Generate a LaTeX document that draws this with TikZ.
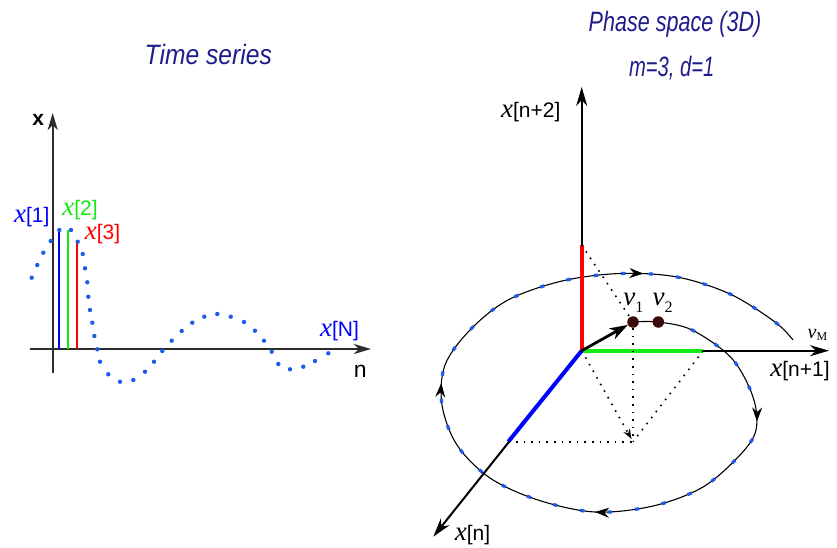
\documentclass[tikz,border=0pt]{standalone}
\usepackage{fontspec}
\usepackage{graphicx}
\setmainfont{Liberation Sans}
\newfontfamily\serifrm{Liberation Serif}
\usetikzlibrary{arrows.meta,decorations.markings}
\definecolor{navy}{RGB}{28,28,140}
\definecolor{dotblue}{RGB}{30,90,235}
\definecolor{gr}{RGB}{20,235,20}
\definecolor{axisgray}{RGB}{45,45,45}
\definecolor{vdot}{RGB}{60,10,10}
\newcommand\fsz[1]{\fontsize{#1}{#1}\selectfont}
\newcommand\ix{{\serifrm\itshape\fsz{27}x}}
\newcommand\iv{{\serifrm\itshape\fsz{27}v}}
\begin{document}
\begin{tikzpicture}[x=1pt,y=-1pt,
  lab/.style={inner sep=0pt, anchor=base, font=\fsz{21}},
  ttl/.style={inner sep=0pt, anchor=base, text=navy, font=\fsz{28}\itshape},
  axisL/.style={line width=2.4pt, draw=axisgray, -{Stealth[length=17pt,width=10pt,inset=5pt]}},
  axisR/.style={line width=2pt, draw=black, -{Stealth[length=19pt,width=11pt,inset=6pt]}},
  stem/.style={line width=2pt},
  seg/.style={line width=4pt},
  dotline/.style={line width=1.6pt, dash pattern=on 1.6pt off 6pt},
  vpt/.style={circle, fill=vdot, inner sep=0pt, minimum size=11.5pt},
  spiral/.style={line width=1.1pt,
    postaction={decorate, decoration={markings,
      mark=between positions 0.06 and 0.99 step 27.5pt with {\fill[dotblue] (-2.2pt,-1.6pt) rectangle (2.2pt,1.6pt);}}},
    postaction={decorate, decoration={markings,
      mark=at position 0.175 with {\arrow{Stealth[length=14pt,width=10pt]}},
      mark=at position 0.371 with {\arrow{Stealth[length=14pt,width=10pt]}},
      mark=at position 0.59 with {\arrow{Stealth[length=14pt,width=10pt]}},
      mark=at position 0.835 with {\arrow{Stealth[length=14pt,width=10pt]}}}}}
]
\useasboundingbox (0,0) rectangle (837,548);

% ---------------- left panel: time series ----------------
\node[ttl] (t1) at (208.3,65) {\scalebox{0.88}[1]{Time series}};

\coordinate (ya) at (52.7,373);
\coordinate (yb) at (52.7,113);
\coordinate (xa) at (30,349);
\coordinate (xb) at (371,349);
\draw[axisL] (ya) -- (yb);
\draw[axisL] (xa) -- (xb);
\node[inner sep=0pt, anchor=base, font=\fsz{21}\bfseries] (lx) at (38.3,126) {x};
\node[lab, font=\fsz{23}] (ln) at (360.3,377.5) {n};

\coordinate (s1a) at (58.7,349); \coordinate (s1b) at (58.7,230);
\coordinate (s2a) at (68.3,349); \coordinate (s2b) at (68.3,230);
\coordinate (s3a) at (76.7,349); \coordinate (s3b) at (76.7,241.7);
\draw[stem, blue] (s1a) -- (s1b);
\draw[stem, gr] (s2a) -- (s2b);
\draw[stem, red] (s3a) -- (s3b);

\foreach \p in {(31.7,277.7),(37.3,265),(43.3,252.7),(50.7,241),(59.3,230),(71,230),(77.7,241.7),
  (82.7,254),(85,268.3),(87.3,282.3),(88.3,296.7),(90,310),(92.3,322.7),(94.3,336),(97.3,349.3),
  (100,361.7),(108.3,374.3),(120,381.7),(133.3,380),(145,371.7),(154,361.7),(162.3,351),
  (171.7,340.7),(181.7,331),(192.3,322.7),(204.3,316.7),(217.3,314),(230.7,316.7),(244,322),
  (255,330.7),(264,340.7),(271.7,351.7),(278.3,364),(290,369.3),(303.3,366.7),(315,361),(328.3,353.3)}
  \fill[dotblue] \p circle (2.2pt);

\node[lab, text=blue] (x1) at (31.7,222.7) {\ix[1]};
\node[lab, text=gr] (x2) at (80,215) {\ix[2]};
\node[lab, text=red] (x3) at (102.5,239) {\ix[3]};
\node[lab, text=blue] (xN) at (339.5,336) {\ix[N]};

% ---------------- right panel: phase space ----------------
\node[ttl] (t2) at (675,31.7) {\scalebox{0.77}[1]{Phase space (3D)}};
\node[ttl] (t3) at (671.7,76.7) {\scalebox{0.72}[1]{m=3, d=1}};

\coordinate (O) at (581.7,350.7);
\coordinate (Ztip) at (581.7,87);
\coordinate (Ytip) at (829,350.7);
\coordinate (Xtip) at (433.3,536.7);
\coordinate (R) at (581.7,245);
\coordinate (G) at (703.3,350.7);
\coordinate (B) at (508.3,441.7);
\coordinate (P) at (633,441.7);

\draw[axisR] (O) -- (Ztip);
\draw[axisR] (O) -- (Ytip);
\draw[axisR] (O) -- (Xtip);

\draw[spiral] plot[smooth, tension=0.55] coordinates {(633,322) (658,322) (692,330) (731.7,358.3)
  (753,397) (756,430) (740,455) (703,487) (653,506) (595,512) (538,500) (490,478) (457,445)
  (442,405) (445,365) (470,330) (508,300) (562,281) (620,273.5) (677,277) (730,294) (775,322) (793,340)};

\draw[seg, red] (O) -- (R);
\draw[seg, gr] (O) -- (G);
\draw[seg, blue] (O) -- (B);

\node[vpt] (v1) at (633,322) {};
\node[vpt] (v2) at (658.3,322) {};

\draw[dotline] (B) -- (P);
\draw[dotline] (G) -- (P);
\draw[dotline] (v1) -- (P);
\draw[dotline] (R) -- (v1);
\draw[dotline, -{Stealth[length=10pt,width=7pt]}, shorten >=3pt] (O) -- (P);
\draw[line width=2.8pt, -{Stealth[length=18pt,width=12pt,inset=5pt]}] (O) -- (v1);

\node[lab] (lz) at (530.8,117.5) {\ix[n+2]};
\node[lab] (ly) at (800,376.7) {\ix[n+1]};
\node[lab] (lxn) at (472.5,540) {\ix[n]};

\node[inner sep=0pt, anchor=base] (lv1) at (633.3,305) {\iv\raisebox{-7.5pt}{\serifrm\fsz{16}1}};
\node[inner sep=0pt, anchor=base] (lv2) at (662.5,305) {\iv\raisebox{-7.5pt}{\serifrm\fsz{16}2}};
\node[inner sep=0pt, anchor=base] (lvM) at (817.5,338) {{\serifrm\itshape\fsz{20}v}\raisebox{-2.5pt}{\serifrm\fsz{12}M}};
\end{tikzpicture}
\end{document}
